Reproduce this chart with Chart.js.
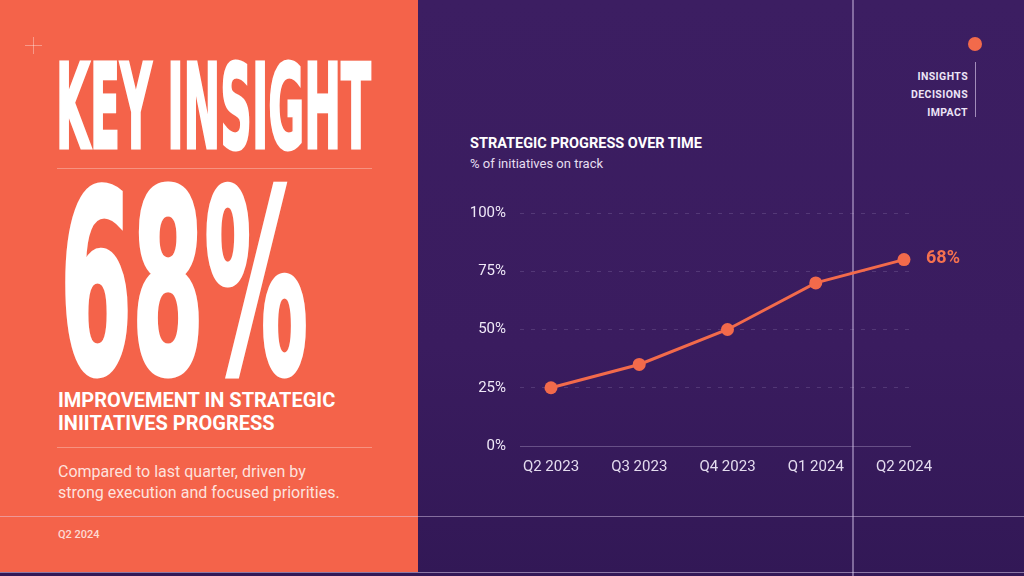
<!DOCTYPE html>
<html>
<head>
<meta charset="utf-8">
<script src="https://cdn.jsdelivr.net/npm/chart.js@4.4.1/dist/chart.umd.min.js"></script>
<style>
  html,body{margin:0;padding:0;width:1024px;height:576px;overflow:hidden;background:#2e1650;}
  #stage{position:relative;width:1024px;height:576px;overflow:hidden;
    background:linear-gradient(180deg,#3c1e62 0%,#3a1c5f 60%,#321856 100%);font-family:Roboto,"Noto Sans",sans-serif;}
  #left{position:absolute;left:0;top:0;width:418px;height:572px;background:#f4634a;}
  .abs{position:absolute;white-space:nowrap;}
  .cond{font-family:"DejaVu Sans Condensed","DejaVu Sans",sans-serif;font-weight:bold;font-stretch:condensed;color:#fff;line-height:1;display:inline-block;transform-origin:0 0;}
  .hline{position:absolute;height:1px;}
  .vline{position:absolute;width:1px;}
</style>
</head>
<body>
<div id="stage">
  <div id="left"></div>
  <!-- crosshair -->
  <div class="hline" style="left:25px;top:45px;width:17px;background:rgba(255,255,255,0.35)"></div>
  <div class="vline" style="left:33px;top:37px;height:17px;background:rgba(255,255,255,0.35)"></div>

  <div id="keyInsight" class="abs cond" style="left:56px;top:49px;font-size:117px;-webkit-text-stroke:3px #fff;">KEY INSIGHT</div>
  <div class="hline" style="left:57px;top:168px;width:315px;background:rgba(255,255,255,0.3)"></div>
  <div id="bigNum" class="abs cond" style="left:60px;top:157px;font-size:254px;-webkit-text-stroke:5px #fff;">68%</div>

  <div class="abs" style="left:58px;top:389px;font-size:20px;font-weight:700;color:#fff;line-height:23px;">IMPROVEMENT IN STRATEGIC<br>INIITATIVES PROGRESS</div>
  <div class="hline" style="left:57px;top:447px;width:315px;background:rgba(255,255,255,0.3)"></div>
  <div class="abs" style="left:58px;top:461px;font-size:16px;color:rgba(255,240,236,0.92);line-height:21px;">Compared to last quarter, driven by<br>strong execution and focused priorities.</div>
  <div class="abs" style="left:58px;top:528px;font-size:11px;font-weight:500;color:rgba(255,240,236,0.85);">Q2 2024</div>

  <!-- frame lines -->
  <div class="hline" style="left:0;top:516px;width:1024px;background:rgba(230,215,245,0.45)"></div>
  <div class="vline" style="left:852px;top:0;height:576px;width:2px;background:rgba(220,205,240,0.45)"></div>
  <div class="hline" style="left:0;top:572px;width:1024px;background:rgba(230,215,245,0.5)"></div>

  <!-- top right -->
  <div class="abs" style="left:968px;top:37px;width:14px;height:14px;border-radius:50%;background:#f26a4b;"></div>
  <div class="vline" style="left:975px;top:62px;height:55px;background:rgba(230,215,245,0.6)"></div>
  <div class="abs" style="right:56px;top:68px;text-align:right;font-size:10.5px;font-weight:700;letter-spacing:0.4px;color:#ece4f6;line-height:18px;">INSIGHTS<br>DECISIONS<br>IMPACT</div>

  <!-- chart titles -->
  <div class="abs" style="left:470px;top:135px;font-size:14.5px;font-weight:700;color:#fff;">STRATEGIC PROGRESS OVER TIME</div>
  <div class="abs" style="left:470px;top:156px;font-size:13px;color:#e6def0;">% of initiatives on track</div>

  <div id="chartBox" style="position:absolute;left:440px;top:190px;width:560px;height:290px;">
    <canvas id="c"></canvas>
  </div>
</div>
<script>
const categories = ['Q2 2023', 'Q3 2023', 'Q4 2023', 'Q1 2024', 'Q2 2024'];
const progressValues = [25, 35, 50, 70, 80];
const yTickValues = [0, 25, 50, 75, 100];
const highlightLabel = '68%';

function fitWidth(id, target){
  const el = document.getElementById(id);
  el.style.transform = '';
  const w = el.getBoundingClientRect().width;
  el.style.transform = 'scaleX(' + (target / w) + ')';
}
fitWidth('keyInsight', 315);
fitWidth('bigNum', 248);

const ORANGE = '#f26a4b';
Chart.defaults.font.family = 'Roboto, "Noto Sans", sans-serif';

const endLabel = {
  id: 'endLabel',
  afterDatasetsDraw(chart){
    const meta = chart.getDatasetMeta(0);
    const pt = meta.data[meta.data.length - 1];
    const ctx = chart.ctx;
    ctx.save();
    ctx.fillStyle = '#f5714f';
    ctx.font = 'bold 18px Roboto, sans-serif';
    ctx.textAlign = 'left';
    ctx.textBaseline = 'middle';
    ctx.fillText(highlightLabel, pt.x + 22, pt.y - 1);
    ctx.restore();
  }
};

new Chart(document.getElementById('c'), {
  type: 'line',
  data: {
    datasets: [{
      data: progressValues.map((v, i) => ({x: i, y: v})),
      borderColor: ORANGE,
      backgroundColor: ORANGE,
      borderWidth: 3,
      pointRadius: 6.5,
      pointBackgroundColor: ORANGE,
      pointBorderWidth: 0,
      tension: 0,
      clip: false
    }]
  },
  options: {
    responsive: true,
    maintainAspectRatio: false,
    animation: false,
    layout: {padding: {left: 0, right: 90, top: 20, bottom: 0}},
    plugins: {legend: {display: false}, tooltip: {enabled: false}},
    scales: {
      x: {
        type: 'linear',
        min: -0.351,
        max: 4.068,
        afterFit(s){ s.height = 34; },
        afterBuildTicks(s){ s.ticks = categories.map((c, i) => ({value: i})); },
        ticks: {
          color: '#e4dcef',
          font: {size: 15},
          padding: 12,
          autoSkip: false,
          maxRotation: 0,
          callback: (v) => categories[v]
        },
        grid: {display: false, drawTicks: false},
        border: {display: true, color: 'rgba(220,205,240,0.3)', width: 1}
      },
      y: {
        min: 0,
        max: 100,
        afterFit(s){ s.width = 80; },
        afterBuildTicks(s){ s.ticks = yTickValues.map(v => ({value: v})); },
        ticks: {
          color: '#efe8f7',
          font: {size: 15},
          padding: 14,
          callback: (v) => v + '%'
        },
        grid: {
          drawTicks: false,
          color: (ctx) => ctx.tick && ctx.tick.value === 0 ? 'rgba(0,0,0,0)' : 'rgba(220,205,240,0.16)',
          lineWidth: 1
        },
        border: {display: false, dash: [4, 7]}
      }
    }
  },
  plugins: [endLabel]
});
</script>
</body>
</html>
